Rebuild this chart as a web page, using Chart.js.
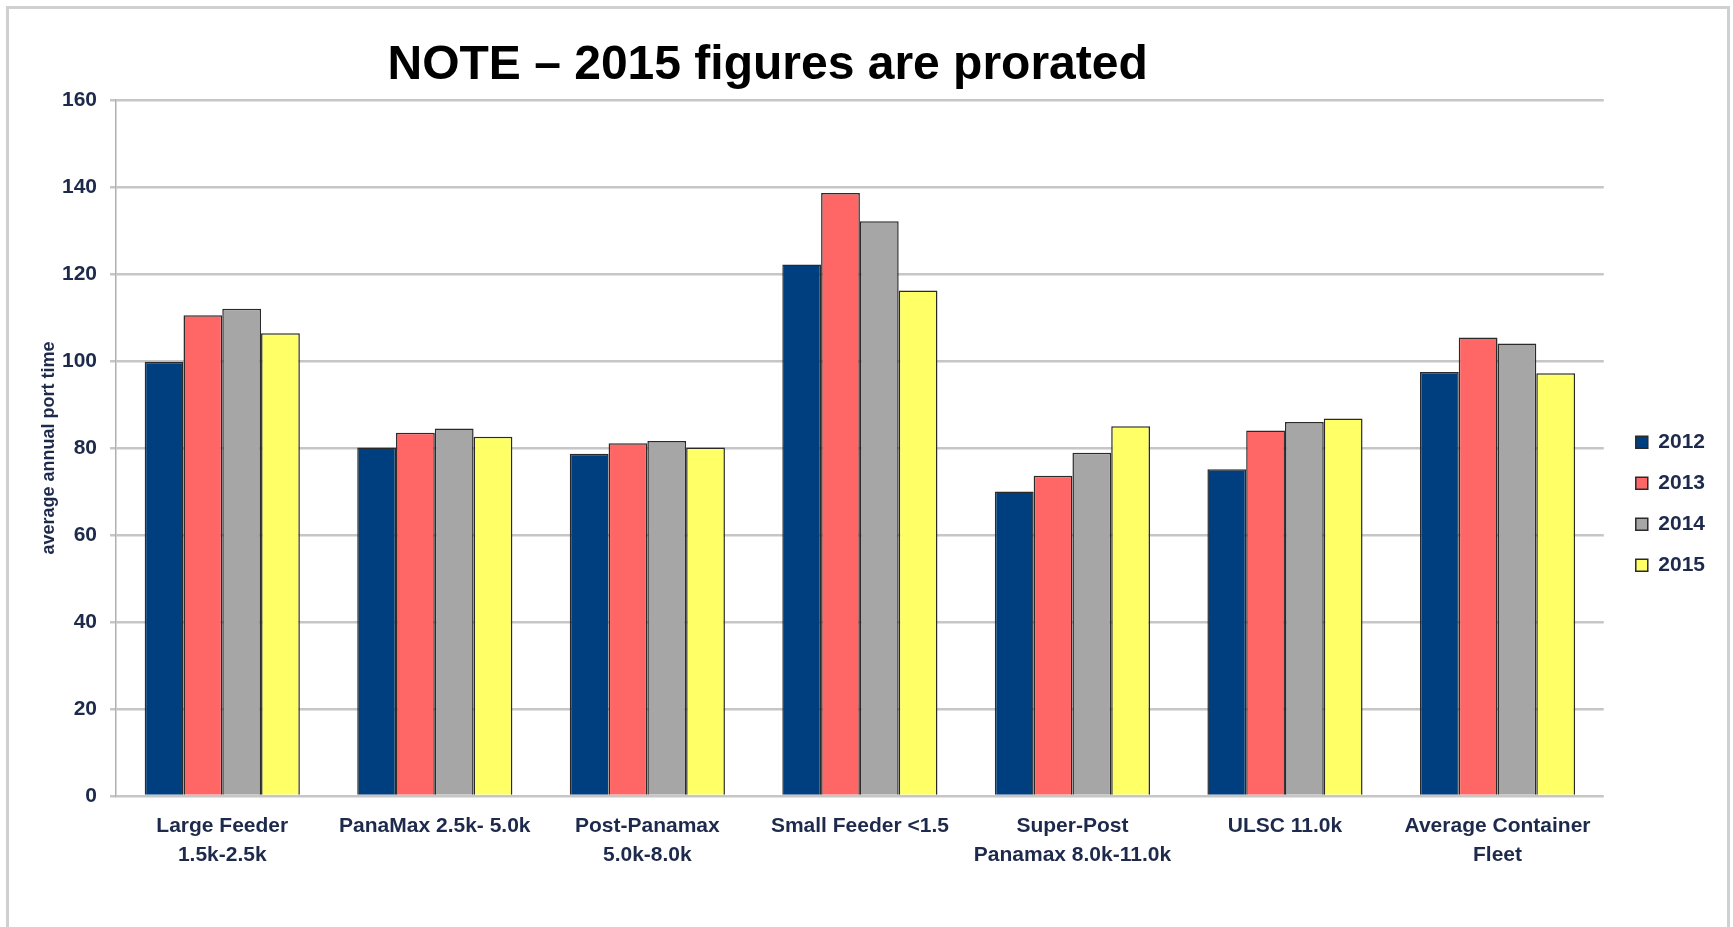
<!DOCTYPE html>
<html><head><meta charset="utf-8">
<script src="https://cdn.jsdelivr.net/npm/chart.js@4.4.1/dist/chart.umd.min.js"></script>
<style>
html,body{margin:0;padding:0;background:#fff;}
#wrap{position:relative;width:1733px;height:927px;overflow:hidden;}
#frame{position:absolute;left:6px;top:6px;width:1724px;height:960px;border:3px solid #d0d0d0;box-sizing:border-box;pointer-events:none;}
canvas{position:absolute;left:0;top:0;}
</style></head><body>
<div id="wrap"><canvas id="c" width="1733" height="927"></canvas><div id="frame"></div></div>
<script>
const titleText = 'NOTE \u2013 2015 figures are prorated';
const yAxisTitle = 'average annual port time';
const categories = [
  ['Large Feeder', '1.5k-2.5k'],
  ['PanaMax 2.5k- 5.0k'],
  ['Post-Panamax', '5.0k-8.0k'],
  ['Small Feeder <1.5'],
  ['Super-Post', 'Panamax 8.0k-11.0k'],
  ['ULSC 11.0k'],
  ['Average Container', 'Fleet']
];
const seriesNames = ['2012', '2013', '2014', '2015'];
const values2012 = [99.8, 80.1, 78.7, 122.2, 70.0, 75.1, 97.5];
const values2013 = [110.5, 83.5, 81.1, 138.6, 73.6, 84.0, 105.4];
const values2014 = [112.0, 84.5, 81.6, 132.1, 78.9, 86.0, 104.0];
const values2015 = [106.4, 82.6, 80.1, 116.2, 85.0, 86.8, 97.2];
const yTicks = [0, 20, 40, 60, 80, 100, 120, 140, 160];

const seriesColors = ['#003f7f', '#ff6666', '#a6a6a6', '#ffff66'];
const navy = '#1e2a4c';
const FONT = '"Liberation Sans", Arial, sans-serif';

const titlePlugin = {
  id: 'noteTitle',
  afterDraw(chart) {
    const ctx = chart.ctx, a = chart.chartArea;
    ctx.save();
    ctx.font = 'bold 48px ' + FONT;
    ctx.fillStyle = '#000';
    ctx.textAlign = 'center';
    ctx.textBaseline = 'alphabetic';
    ctx.fillText(titleText, a.left + (a.right - a.left) * 0.438, a.top - 21);
    ctx.restore();
  }
};

const legendShift = {
  id: 'legendShift',
  afterLayout(chart) {
    const lg = chart.legend;
    if (lg) { lg.left += 12; lg.right += 12; }
  }
};

const allValues = [values2012, values2013, values2014, values2015];
new Chart(document.getElementById('c'), {
  type: 'bar',
  data: {
    labels: categories,
    datasets: seriesNames.map((n, i) => ({
      label: n,
      data: allValues[i],
      backgroundColor: seriesColors[i],
      borderColor: '#2a2a2a',
      borderWidth: 1.5,
      categoryPercentage: 0.73,
      barPercentage: 1.0
    }))
  },
  options: {
    responsive: false,
    devicePixelRatio: 1,
    animation: false,
    layout: { padding: { left: 30, top: 100, right: 30, bottom: 31 } },
    plugins: {
      title: { display: false },
      tooltip: { enabled: false },
      legend: {
        position: 'right',
        align: 'center',
        title: { display: true, text: '', padding: 1, font: { size: 8 } },
        labels: {
          boxWidth: 12, boxHeight: 12, padding: 20,
          color: navy,
          font: { family: FONT, size: 21, weight: 'bold' }
        }
      }
    },
    scales: {
      x: {
        grid: { display: false, drawTicks: false },
        border: { display: false },
        ticks: {
          color: navy, padding: 16, maxRotation: 0, autoSkip: false,
          font: { family: FONT, size: 21, weight: 'bold', lineHeight: 1.36 }
        },
        afterFit(s) { s.height = 100; }
      },
      y: {
        min: 0, max: 160,
        afterBuildTicks(s) { s.ticks = yTicks.map(v => ({ value: v })); },
        grid: { color: '#c6c6c6', lineWidth: 2.5, tickLength: 6, drawTicks: true },
        border: { display: true, color: '#b0b0b0', width: 1.5 },
        ticks: {
          color: navy, padding: 13,
          font: { family: FONT, size: 21, weight: 'bold' }
        },
        title: {
          display: true, text: yAxisTitle, color: navy,
          padding: { top: 8, bottom: 0 },
          font: { family: FONT, size: 18, weight: 'bold' }
        },
        afterFit(s) { s.width = 86; }
      }
    }
  },
  plugins: [titlePlugin, legendShift]
});
</script>
</body></html>
